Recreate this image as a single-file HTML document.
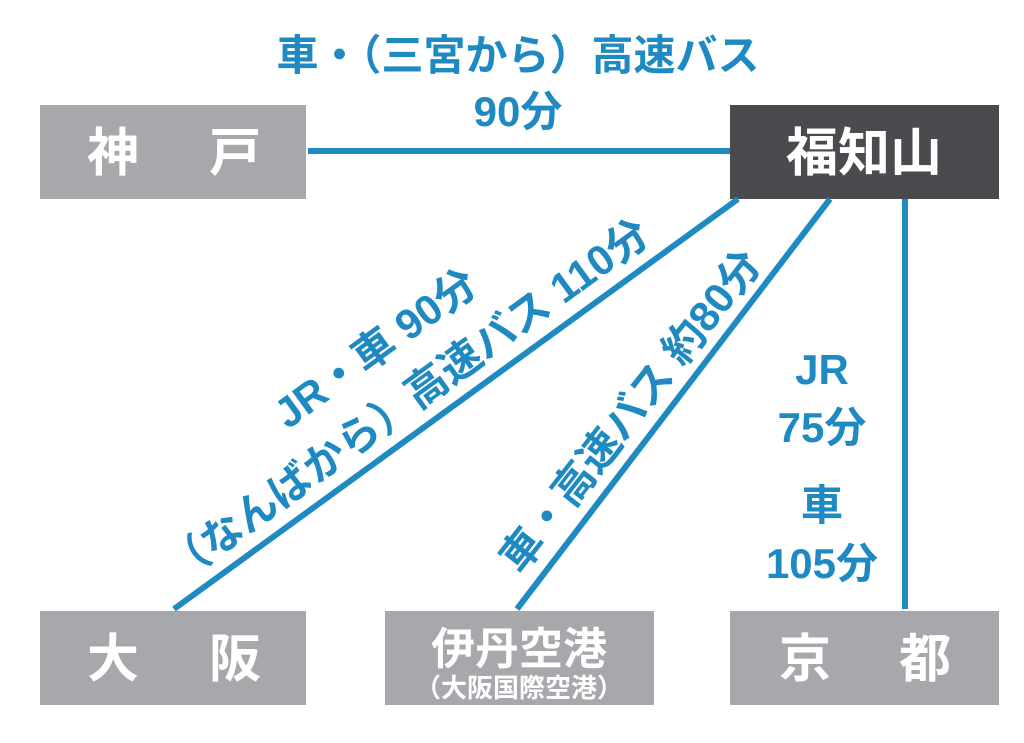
<!DOCTYPE html>
<html><head><meta charset="utf-8"><style>
html,body{margin:0;padding:0;background:#fff;}
text{font-family:"Liberation Sans","Noto Sans CJK JP",sans-serif;font-weight:bold;}
</style></head><body>
<svg width="1024" height="738" viewBox="0 0 1024 738" xmlns="http://www.w3.org/2000/svg">
<g fill="#a7a8ab">
<rect x="40" y="105" width="266" height="94"/>
<rect x="40" y="611" width="266" height="94"/>
<rect x="385" y="611" width="269" height="94"/>
<rect x="730" y="611" width="269" height="94"/>
</g>
<rect x="730" y="105" width="269" height="94" fill="#4b4b4f"/>
<g stroke="#1f8ac2" stroke-width="6" fill="none">
<line x1="308" y1="151" x2="730" y2="151"/>
<line x1="174" y1="609" x2="738" y2="199"/>
<line x1="517" y1="609" x2="830" y2="199"/>
<line x1="905" y1="199" x2="905" y2="609"/>
</g>
<g fill="#fff" font-size="52" text-anchor="middle">
<text x="113" y="171">神</text><text x="235" y="171">戸</text>
<text x="864" y="171">福知山</text>
<text x="113" y="677">大</text><text x="235" y="677">阪</text>
<text x="805" y="677">京</text><text x="925" y="677">都</text>
<text x="519" y="664" font-size="44">伊丹空港</text>
<text x="519" y="697" font-size="26">（大阪国際空港）</text>
</g>
<g fill="#1f8ac2" font-size="42" text-anchor="middle">
<text x="518" y="70">車・（三宮から）高速バス</text>
<text x="518" y="126">90分</text>
<text x="822" y="384">JR</text>
<text x="822" y="442">75分</text>
<text x="822" y="520">車</text>
<text x="822" y="578">105分</text>
<text transform="translate(384,360) rotate(-36)">JR・車 90分</text>
<text transform="translate(416,412) rotate(-36)">（なんばから）高速バス 110分</text>
<text transform="translate(642,420) rotate(-52)">車・高速バス 約80分</text>
</g>
</svg>
</body></html>
